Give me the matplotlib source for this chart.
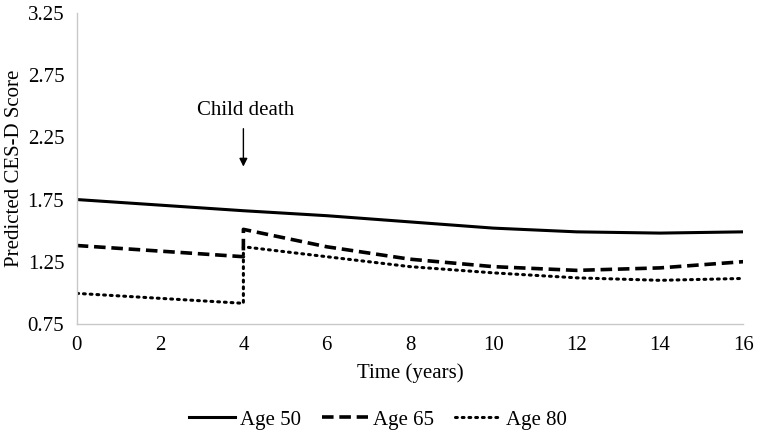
import matplotlib
matplotlib.use('Agg')
from matplotlib import pyplot as plt

# time points (year 4 repeated for the jump at child death)
years = [0, 2, 4, 4, 6, 8, 10, 12, 14, 16]
years_50 = [0, 2, 4, 6, 8, 10, 12, 14, 16]

age50 = [1.75, 1.705, 1.66, 1.62, 1.57, 1.52, 1.49, 1.48, 1.49]
age65 = [1.38, 1.335, 1.29, 1.51, 1.37, 1.27, 1.21, 1.18, 1.20, 1.25]
age80 = [0.995, 0.955, 0.915, 1.37, 1.29, 1.21, 1.16, 1.12, 1.10, 1.115]

x_ticks = [0, 2, 4, 6, 8, 10, 12, 14, 16]
y_ticks = [0.75, 1.25, 1.75, 2.25, 2.75, 3.25]

plt.rcParams['font.family'] = ['Liberation Serif', 'DejaVu Serif']

fig = plt.figure(figsize=(7.6, 4.37), dpi=100)
ax = fig.add_axes([0.101, 0.259, 0.877, 0.711])

ax.plot(years_50, age50, color='black', linewidth=2.2, label='Age 50')
ax.plot(years, age65, color='black', linewidth=2.6, dashes=(3.2, 1.6), label='Age 65')
ax.plot(years, age80, color='black', linewidth=2.2, linestyle=(0, (0.6, 1.6)),
        dash_capstyle='round', label='Age 80')

# event marker
ax.text(4.05, 2.47, 'Child death', ha='center', va='center', fontsize=15)
ax.annotate('', xy=(4, 2.015), xytext=(4, 2.32),
            arrowprops=dict(arrowstyle='-|>', color='black', lw=1,
                            mutation_scale=12, shrinkA=0, shrinkB=0))

ax.set_xlim(0, 16)
ax.set_ylim(0.75, 3.25)
ax.set_xticks(x_ticks)
ax.set_yticks(y_ticks)
ax.set_yticklabels(['%.2f' % v for v in y_ticks])
ax.tick_params(axis='x', length=0, labelsize=15, pad=9)
ax.tick_params(axis='y', length=0, labelsize=15, pad=9)
for s in ['top', 'right']:
    ax.spines[s].set_visible(False)
for s in ['left', 'bottom']:
    ax.spines[s].set_color('#c8c8c8')
    ax.spines[s].set_linewidth(1)

ax.set_xlabel('Time (years)', fontsize=15, labelpad=6)
ax.set_ylabel('Predicted CES-D Score', fontsize=15, labelpad=2.5)

ax.legend(loc='center', bbox_to_anchor=(0.497, 0.039), bbox_transform=fig.transFigure,
          ncol=3, frameon=False, fontsize=15, handlelength=2.2, handletextpad=0.25,
          columnspacing=1.0)

fig.savefig('out.png', dpi=100)
